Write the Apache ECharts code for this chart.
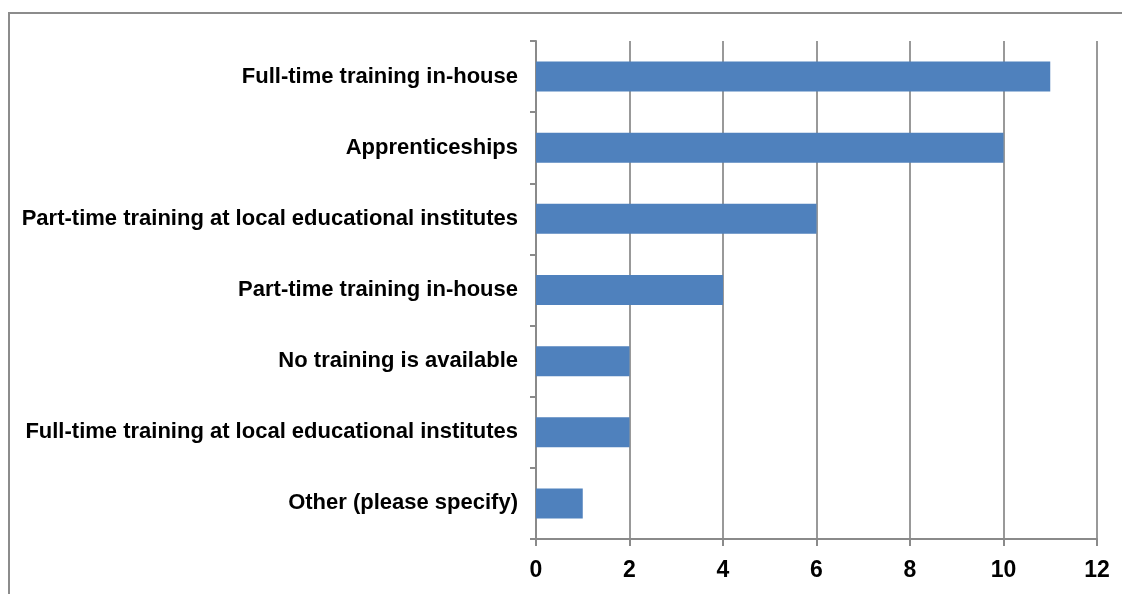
<!DOCTYPE html>
<html>
<head>
<meta charset="utf-8">
<script src="https://cdn.jsdelivr.net/npm/echarts@6/dist/echarts.min.js"></script>
<style>
    html, body { margin: 0; padding: 0; background: #fff; }
    #frame {
        position: absolute; left: 8px; top: 12px; width: 1200px; height: 700px;
        border-left: 2px solid #8c8c8c; border-top: 2px solid #8c8c8c;
    }
    #chart { position: absolute; left: 0; top: 0; width: 1122px; height: 594px; }
</style>
</head>
<body>
<div id="frame"></div>
<div id="chart"></div>
<script>
// categories listed bottom to top (category axis starts at bottom)
const categories = [
    'Other (please specify)',
    'Full-time training at local educational institutes',
    'No training is available',
    'Part-time training in-house',
    'Part-time training at local educational institutes',
    'Apprenticeships',
    'Full-time training in-house'
];
const counts = [1, 2, 2, 4, 6, 10, 11];

const labelFont = '"Liberation Sans Narrow", "Arial Narrow", "Liberation Sans", Arial, sans-serif';

const chart = echarts.init(document.getElementById('chart'));
chart.setOption({
    animation: false,
    grid: { left: 536, right: 25, top: 41, bottom: 55, outerBoundsMode: 'none' },
    xAxis: {
        type: 'value',
        min: 0,
        max: 12,
        interval: 2,
        axisLine: { show: true, lineStyle: { color: '#8a8a8a', width: 2 } },
        axisTick: { show: true, length: 7, lineStyle: { color: '#8a8a8a', width: 2 } },
        axisLabel: {
            color: '#000', fontSize: 23, fontWeight: 'bold',
            fontFamily: labelFont, margin: 20
        },
        splitLine: { show: true, lineStyle: { color: '#999', width: 2 } }
    },
    yAxis: {
        type: 'category',
        data: categories,
        axisLine: { show: true, lineStyle: { color: '#8a8a8a', width: 2 } },
        axisTick: { show: true, length: 6, lineStyle: { color: '#8a8a8a', width: 2 } },
        axisLabel: {
            color: '#000', fontSize: 22, fontWeight: 'bold',
            fontFamily: labelFont, margin: 18, padding: [3, 0, 0, 0]
        }
    },
    series: [{
        type: 'bar',
        data: counts,
        barWidth: 30,
        itemStyle: { color: '#4f81bd' }
    }]
});
</script>
</body>
</html>
